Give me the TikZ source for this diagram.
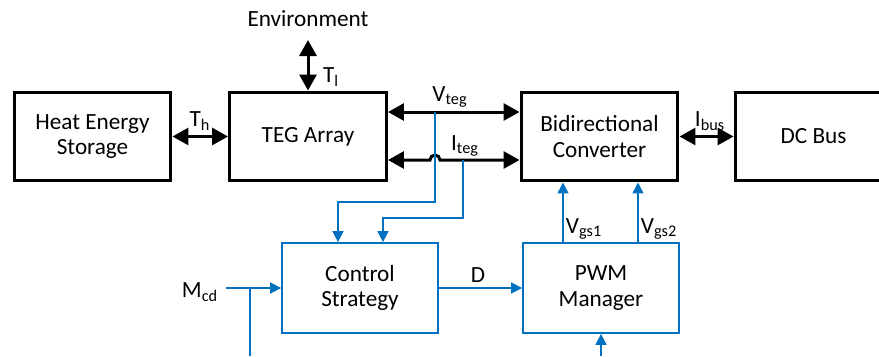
\documentclass[tikz,border=0pt]{standalone}
\usepackage{fontspec}
\setmainfont{Carlito}
\usetikzlibrary{arrows.meta}
\definecolor{ctlblue}{RGB}{0,112,192}
\tikzset{
    blk/.style={draw, line width=0.06cm, minimum width=3.14cm, minimum height=1.78cm, align=center},
    ctl/.style={draw=ctlblue, line width=0.035cm, minimum width=3.12cm, minimum height=1.8cm, align=center},
    dbl/.style={line width=0.06cm, {Triangle[length=0.32cm,width=0.34cm]}-{Triangle[length=0.32cm,width=0.34cm]}},
    sig/.style={draw=ctlblue, line width=0.03cm},
    sigarr/.style={sig, -{Triangle[length=0.22cm,width=0.22cm]}},
}
\begin{document}
\begin{tikzpicture}[x=0.02cm, y=-0.02cm, font=\fontsize{13.2}{14.4}\selectfont]
    \useasboundingbox (0,0) rectangle (879,356);
    \clip (0,0) rectangle (879,356);
    \foreach \n/\x/\t in {hes/92.5/{Heat Energy\\Storage}, teg/308/{TEG Array}, conv/599.5/{Bidirectional\\Converter}, bus/813.5/{DC Bus}} {
        \node[blk] (\n) at (\x, 136.5) {\t};
    };
    \node[ctl] (ctrl) at (360, 288) {Control\\Strategy};
    \node[ctl] (pwm) at (601, 288) {PWM\\Manager};
    \node (env) at (308, 19) {Environment};
    \node (mcd) at (200, 292) {M\textsubscript{cd}};
    \coordinate (envend) at (308, 40);
    \draw[dbl] (teg.north) -- (envend);
    \node (tl) at (331, 77) {T\textsubscript{l}};
    \draw[dbl] (hes) -- (teg);
    \node (th) at (200, 121) {T\textsubscript{h}};
    \draw[dbl] (conv) -- (bus);
    \node (ibus) at (710, 121) {I\textsubscript{bus}};
    \draw[dbl] ([yshift=0.49cm]teg.east) -- ([yshift=0.49cm]conv.west);
    \node (vteg) at (450, 97) {V\textsubscript{teg}};
    \draw[dbl] ([yshift=-0.47cm]teg.east) -- (430, 160) arc[start angle=180, end angle=0, radius=0.1cm] -- ([yshift=-0.47cm]conv.west);
    \node (iteg) at (465, 146) {I\textsubscript{teg}};
    \coordinate (vtap) at (435, 112);
    \coordinate (itap) at (463, 160);
    \draw[sigarr] (vtap) -- ++(0, 90) -| ([xshift=-0.44cm]ctrl.north);
    \draw[sigarr] (itap) -- ++(0, 58) -| ([xshift=0.46cm]ctrl.north);
    \draw[sigarr] (ctrl) -- (pwm);
    \node (d) at (478, 275) {D};
    \foreach \x/\l in {563/1, 638/2} {
        \draw[sigarr] (pwm.north -| \x, 0) -- (conv.south -| \x, 0);
        \node (vgs\l) at (\x+21, 229) {V\textsubscript{gs\l}};
    };
    \coordinate (mcdout) at (226, 288);
    \coordinate (mcdtap) at (250, 288);
    \coordinate (mcdbot) at (250, 356);
    \draw[sigarr] (mcdout) -- (ctrl.west);
    \draw[sig] (mcdtap) -- (mcdbot);
    \coordinate (pwmin) at (601, 356);
    \draw[sigarr] (pwmin) -- (pwm.south);
\end{tikzpicture}
\end{document}
